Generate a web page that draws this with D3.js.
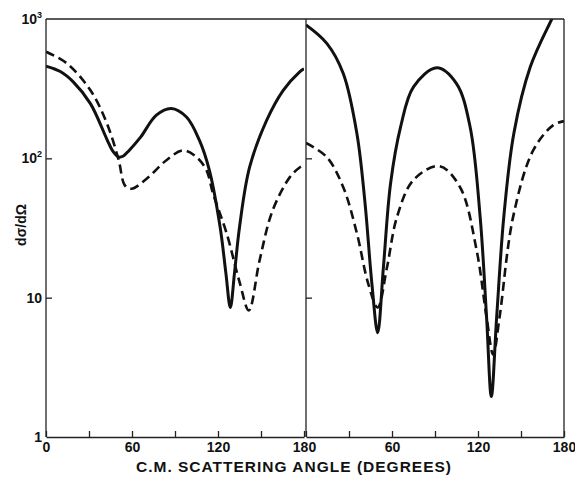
<!DOCTYPE html>
<html>
<head>
<meta charset="utf-8">
<script src="https://cdn.jsdelivr.net/npm/d3@7"></script>
<style>
  body { margin: 0; background: #fff; }
  text { font-family: "Liberation Sans", Arial, sans-serif; fill: #111; }
  .tick-label { font-size: 13px; font-weight: bold; }
  .solid { fill: none; stroke: #111; stroke-width: 3; }
  .dashed { fill: none; stroke: #111; stroke-width: 2.6; stroke-dasharray: 9 5; }
  .frame { stroke: #222; stroke-width: 1.3; }
</style>
</head>
<body>
<div id="chart"></div>
<script>
var w = 575;
var h = 477;

// panel layout
var plotTop = 19, plotBottom = 437;
var panelLeft = [46, 306];
var panelWidth = 258;

// x tick values (degrees) and labels shown
var xTicks = [0, 30, 60, 90, 120, 150, 180];
var xLabels = [0, 60, 120, 180];
var yTicks = [1, 10, 100, 1000];

// left panel, solid curve
var leftSolidAngle = [0, 10, 19, 31, 42.5, 46.5, 50.7, 54, 58, 66, 77, 87.4, 98, 107, 114, 121.5, 125.5, 128.6, 131.5, 135, 142, 154, 165.5, 177, 180];
var leftSolidValue = [459, 420, 354, 247, 137, 113, 102, 104, 114, 142, 204, 228, 198, 135, 82, 32, 15, 8.5, 15, 32, 86, 188, 308, 418, 440];

// left panel, dashed curve
var leftDashAngle = [0, 14.6, 31, 42.5, 50.7, 55, 59.6, 70, 84, 95.6, 105, 112, 116.5, 126, 135, 141.5, 149, 158, 170, 177, 180];
var leftDashValue = [582, 480, 308, 178, 97, 64, 60.5, 71, 97, 114, 102, 82, 56, 29, 13, 8.1, 18.5, 42, 73, 86, 89];

// right panel, solid curve
var rightSolidAngle = [0, 14.5, 26, 35.5, 41, 46, 50, 54, 59, 66, 75, 91.3, 105, 114.5, 121.5, 126, 129.3, 133, 138, 145, 156.5, 171.5, 180];
var rightSolidValue = [906, 668, 406, 151, 50, 12.5, 5.6, 16.5, 66, 168, 326, 447, 344, 168, 38, 7.2, 1.95, 7.2, 38, 151, 454, 1000, 1500];

// right panel, dashed curve
var rightDashAngle = [0, 14.5, 26, 35.5, 43.5, 50, 56.5, 63.5, 75, 93, 107.5, 119, 126, 130.6, 135, 144.5, 158.5, 172.5, 180];
var rightDashValue = [129, 102, 62, 29, 12.5, 8.5, 16.5, 38, 70, 88, 62, 22, 7.2, 3.9, 7.2, 38, 114, 173, 185];

var svg = d3.select("#chart").append("svg").attr("width", w).attr("height", h);

var yScale = d3.scaleLog().domain([1, 1000]).range([plotBottom, plotTop]);

function pairs(a, v) {
    return a.map(function (d, i) { return { angle: d, value: v[i] }; });
}

var panels = [
    { solid: pairs(leftSolidAngle, leftSolidValue), dash: pairs(leftDashAngle, leftDashValue) },
    { solid: pairs(rightSolidAngle, rightSolidValue), dash: pairs(rightDashAngle, rightDashValue) }
];

panels.forEach(function (p, i) {
    var x0 = panelLeft[i];
    var xScale = d3.scaleLinear().domain([0, 180]).range([x0, x0 + panelWidth]);

    svg.append("clipPath").attr("id", "clip" + i)
        .append("rect")
        .attr("x", x0).attr("y", plotTop)
        .attr("width", panelWidth).attr("height", plotBottom - plotTop);

    var line = d3.line()
        .x(function (d) { return xScale(d.angle); })
        .y(function (d) { return yScale(d.value); })
        .curve(d3.curveCatmullRom.alpha(0.5));

    svg.append("path").datum(p.dash)
        .attr("class", "dashed")
        .attr("clip-path", "url(#clip" + i + ")")
        .attr("d", line);

    svg.append("path").datum(p.solid)
        .attr("class", "solid")
        .attr("clip-path", "url(#clip" + i + ")")
        .attr("d", line);

    // x axis with inward ticks
    var xAxis = d3.axisBottom(xScale).tickValues(xTicks).tickSizeInner(-6).tickSizeOuter(0)
        .tickFormat(function (d) {
            if (i === 1 && d === 0) return "";
            return xLabels.indexOf(d) >= 0 ? d : "";
        });
    var gx = svg.append("g").attr("transform", "translate(0," + plotBottom + ")").call(xAxis);
    gx.select(".domain").attr("class", "frame").attr("fill", "none");
    gx.selectAll(".tick line").attr("stroke", "#222").attr("stroke-width", 1.3);
    gx.selectAll(".tick text").attr("class", "tick-label").attr("y", 5).attr("dy", "0.71em")
        .style("font-size", "14px").style("font-family", "'Liberation Sans', Arial, sans-serif");

    // y axis ticks on the left of each panel
    var yAxis = d3.axisRight(yScale).tickValues([10, 100]).tickSize(6).tickFormat("");
    var gy = svg.append("g").attr("transform", "translate(" + x0 + ",0)").call(yAxis);
    gy.select(".domain").remove();
    gy.selectAll(".tick line").attr("stroke", "#222").attr("stroke-width", 1.3);

    // panel left border
    svg.append("line").attr("class", "frame")
        .attr("x1", x0).attr("x2", x0).attr("y1", plotTop).attr("y2", plotBottom);
});

// top and right frame
svg.append("line").attr("class", "frame")
    .attr("x1", panelLeft[0]).attr("x2", panelLeft[1] + panelWidth)
    .attr("y1", plotTop).attr("y2", plotTop);
svg.append("line").attr("class", "frame")
    .attr("x1", panelLeft[1] + panelWidth).attr("x2", panelLeft[1] + panelWidth)
    .attr("y1", plotTop).attr("y2", plotBottom);

// y tick labels
var exps = ["", "", "2", "3"];
yTicks.forEach(function (v, i) {
    var t = svg.append("text").attr("class", "tick-label")
        .attr("x", panelLeft[0] - 4).attr("y", yScale(v) + 5)
        .attr("text-anchor", "end")
        .style("font-size", "14px");
    if (v === 1) { t.text("1"); }
    else if (v === 10) { t.text("10"); }
    else {
        t.text("10");
        t.append("tspan").attr("dy", -6).style("font-size", "9px").text(exps[i]);
    }
});

// axis titles
svg.append("text")
    .attr("x", 294).attr("y", 472)
    .attr("text-anchor", "middle")
    .style("font-size", "15.5px").style("font-weight", "bold").style("letter-spacing", "1px")
    .text("C.M. SCATTERING ANGLE (DEGREES)");

svg.append("text")
    .attr("transform", "translate(26,225) rotate(-90)")
    .attr("text-anchor", "middle")
    .style("font-size", "14px").style("font-weight", "bold")
    .text("dσ/dΩ");
</script>
</body>
</html>
